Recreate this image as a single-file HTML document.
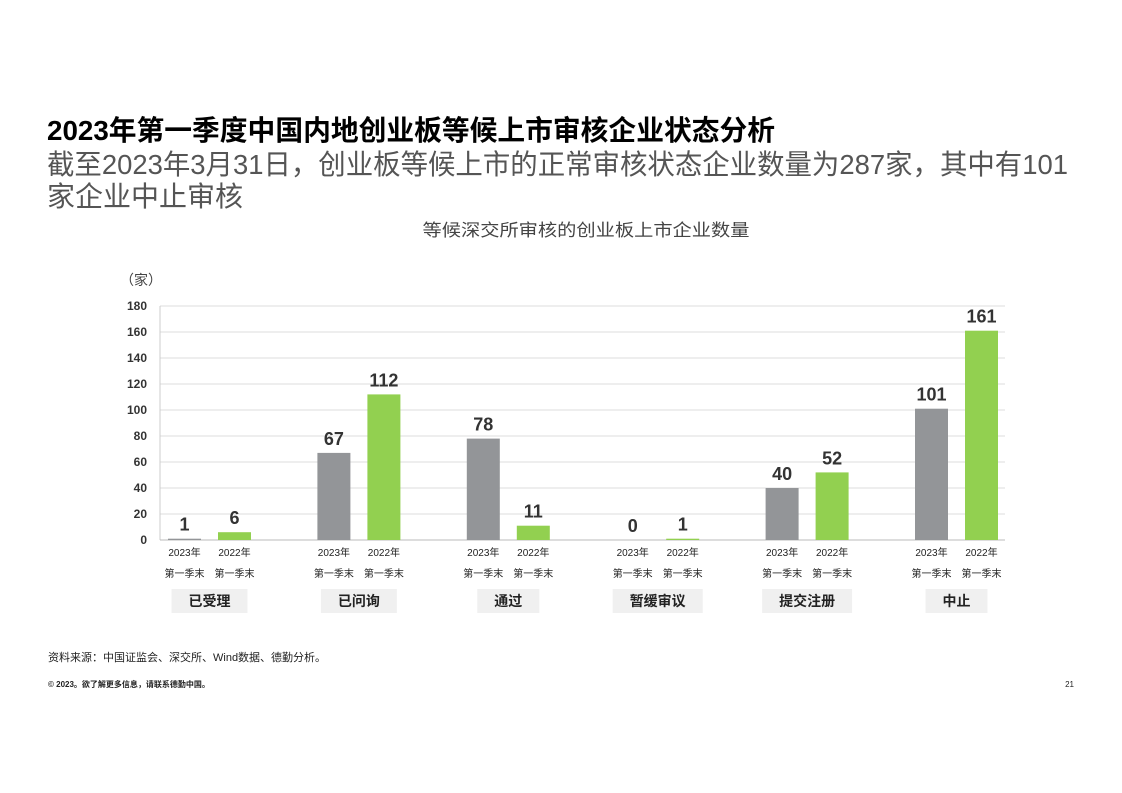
<!DOCTYPE html>
<html><head><meta charset="utf-8"><style>
html,body{margin:0;padding:0;background:#fff;}
svg{display:block;font-family:"Liberation Sans","Noto Sans CJK SC",sans-serif;}
</style></head><body>
<svg id="chart" width="1122" height="793" viewBox="0 0 1122 793">
<text x="47" y="140" font-size="28" font-weight="bold" fill="#000" textLength="728" lengthAdjust="spacingAndGlyphs">2023年第一季度中国内地创业板等候上市审核企业状态分析</text>
<text x="47" y="174" font-size="28" fill="#555" textLength="1021" lengthAdjust="spacingAndGlyphs">截至2023年3月31日，创业板等候上市的正常审核状态企业数量为287家，其中有101</text>
<text x="47" y="206" font-size="28" fill="#555" textLength="196" lengthAdjust="spacingAndGlyphs">家企业中止审核</text>
<text x="586" y="236" font-size="17" fill="#444" text-anchor="middle" textLength="327" lengthAdjust="spacingAndGlyphs">等候深交所审核的创业板上市企业数量</text>
<text x="120" y="285" font-size="14" fill="#444">（家）</text>
<g id="grid"></g>
<g id="bars"></g>
<text x="48" y="661" font-size="11" fill="#222">资料来源：中国证监会、深交所、Wind数据、德勤分析。</text>
<text x="48" y="687" font-size="8" font-weight="bold" fill="#222">© 2023。欲了解更多信息，请联系德勤中国。</text>
<text x="1074" y="687" font-size="8" fill="#222" text-anchor="end">21</text>
</svg>
<script>
const categories=["已受理","已问询","通过","暂缓审议","提交注册","中止"];
const values2023=[1,67,78,0,40,101];
const values2022=[6,112,11,1,52,161];
const yTicks=[0,20,40,60,80,100,120,140,160,180];
const seriesLabels=["2023年","2022年"];
const NS="http://www.w3.org/2000/svg";
const x0=160,x1=1005,yBase=540,yTop=306,yMax=180;
const y=v=>yBase-(v/yMax)*(yBase-yTop);
const groupW=149.4,barW=33;
const barX=(i,s)=>168+i*groupW+s*50;
function mk(tag,attrs,parent,text){const e=document.createElementNS(NS,tag);for(const k in attrs)e.setAttribute(k,attrs[k]);if(text!==undefined)e.textContent=text;parent.appendChild(e);return e;}
const grid=document.getElementById('grid'),bars=document.getElementById('bars');
yTicks.forEach(t=>{
 if(t>0){const l=mk('line',{x1:x0,x2:x1,y1:y(t),y2:y(t),stroke:'#ddd','stroke-width':1},grid);
 
 }
 const tx=mk('text',{x:147,y:y(t)+4,'font-size':12,'font-weight':'bold',fill:'#333','text-anchor':'end'},grid,String(t));
 
 
});
const ax=mk('line',{x1:x0,x2:x0,y1:yTop,y2:yBase,stroke:'#ccc','stroke-width':1},grid);


const bx=mk('line',{x1:x0,x2:x1,y1:yBase,y2:yBase,stroke:'#bbb','stroke-width':1},grid);


categories.forEach((c,i)=>{
 [values2023,values2022].forEach((arr,s)=>{
  const v=arr[i],bxp=barX(i,s);
  const r=mk('rect',{x:bxp,y:y(v),width:barW,height:Math.max(yBase-y(v),v>0?1:0),fill:s===0?'#939598':'#92d050'},bars);
  
  
  const t=mk('text',{x:bxp+barW/2,y:y(v)-8,'font-size':18,'font-weight':'bold',fill:'#333','text-anchor':'middle'},bars,String(v));
  
  
  const l1=mk('text',{x:bxp+barW/2,y:556,'font-size':10,fill:'#222','text-anchor':'middle'},bars,seriesLabels[s]);
  
  
  const l2=mk('text',{x:bxp+barW/2,y:577,'font-size':10,fill:'#222','text-anchor':'middle'},bars,'第一季末');
  
  
 });
 const cx=barX(i,0)+(50+barW)/2;
 const w=c.length*14+34;
 const bg=mk('rect',{x:cx-w/2,y:589,width:w,height:24,fill:'#f0f0f0'},bars);
 
 
 const ct=mk('text',{x:cx,y:606,'font-size':14,'font-weight':'bold',fill:'#222','text-anchor':'middle'},bars,c);
 
 
});
</script>
</body></html>
